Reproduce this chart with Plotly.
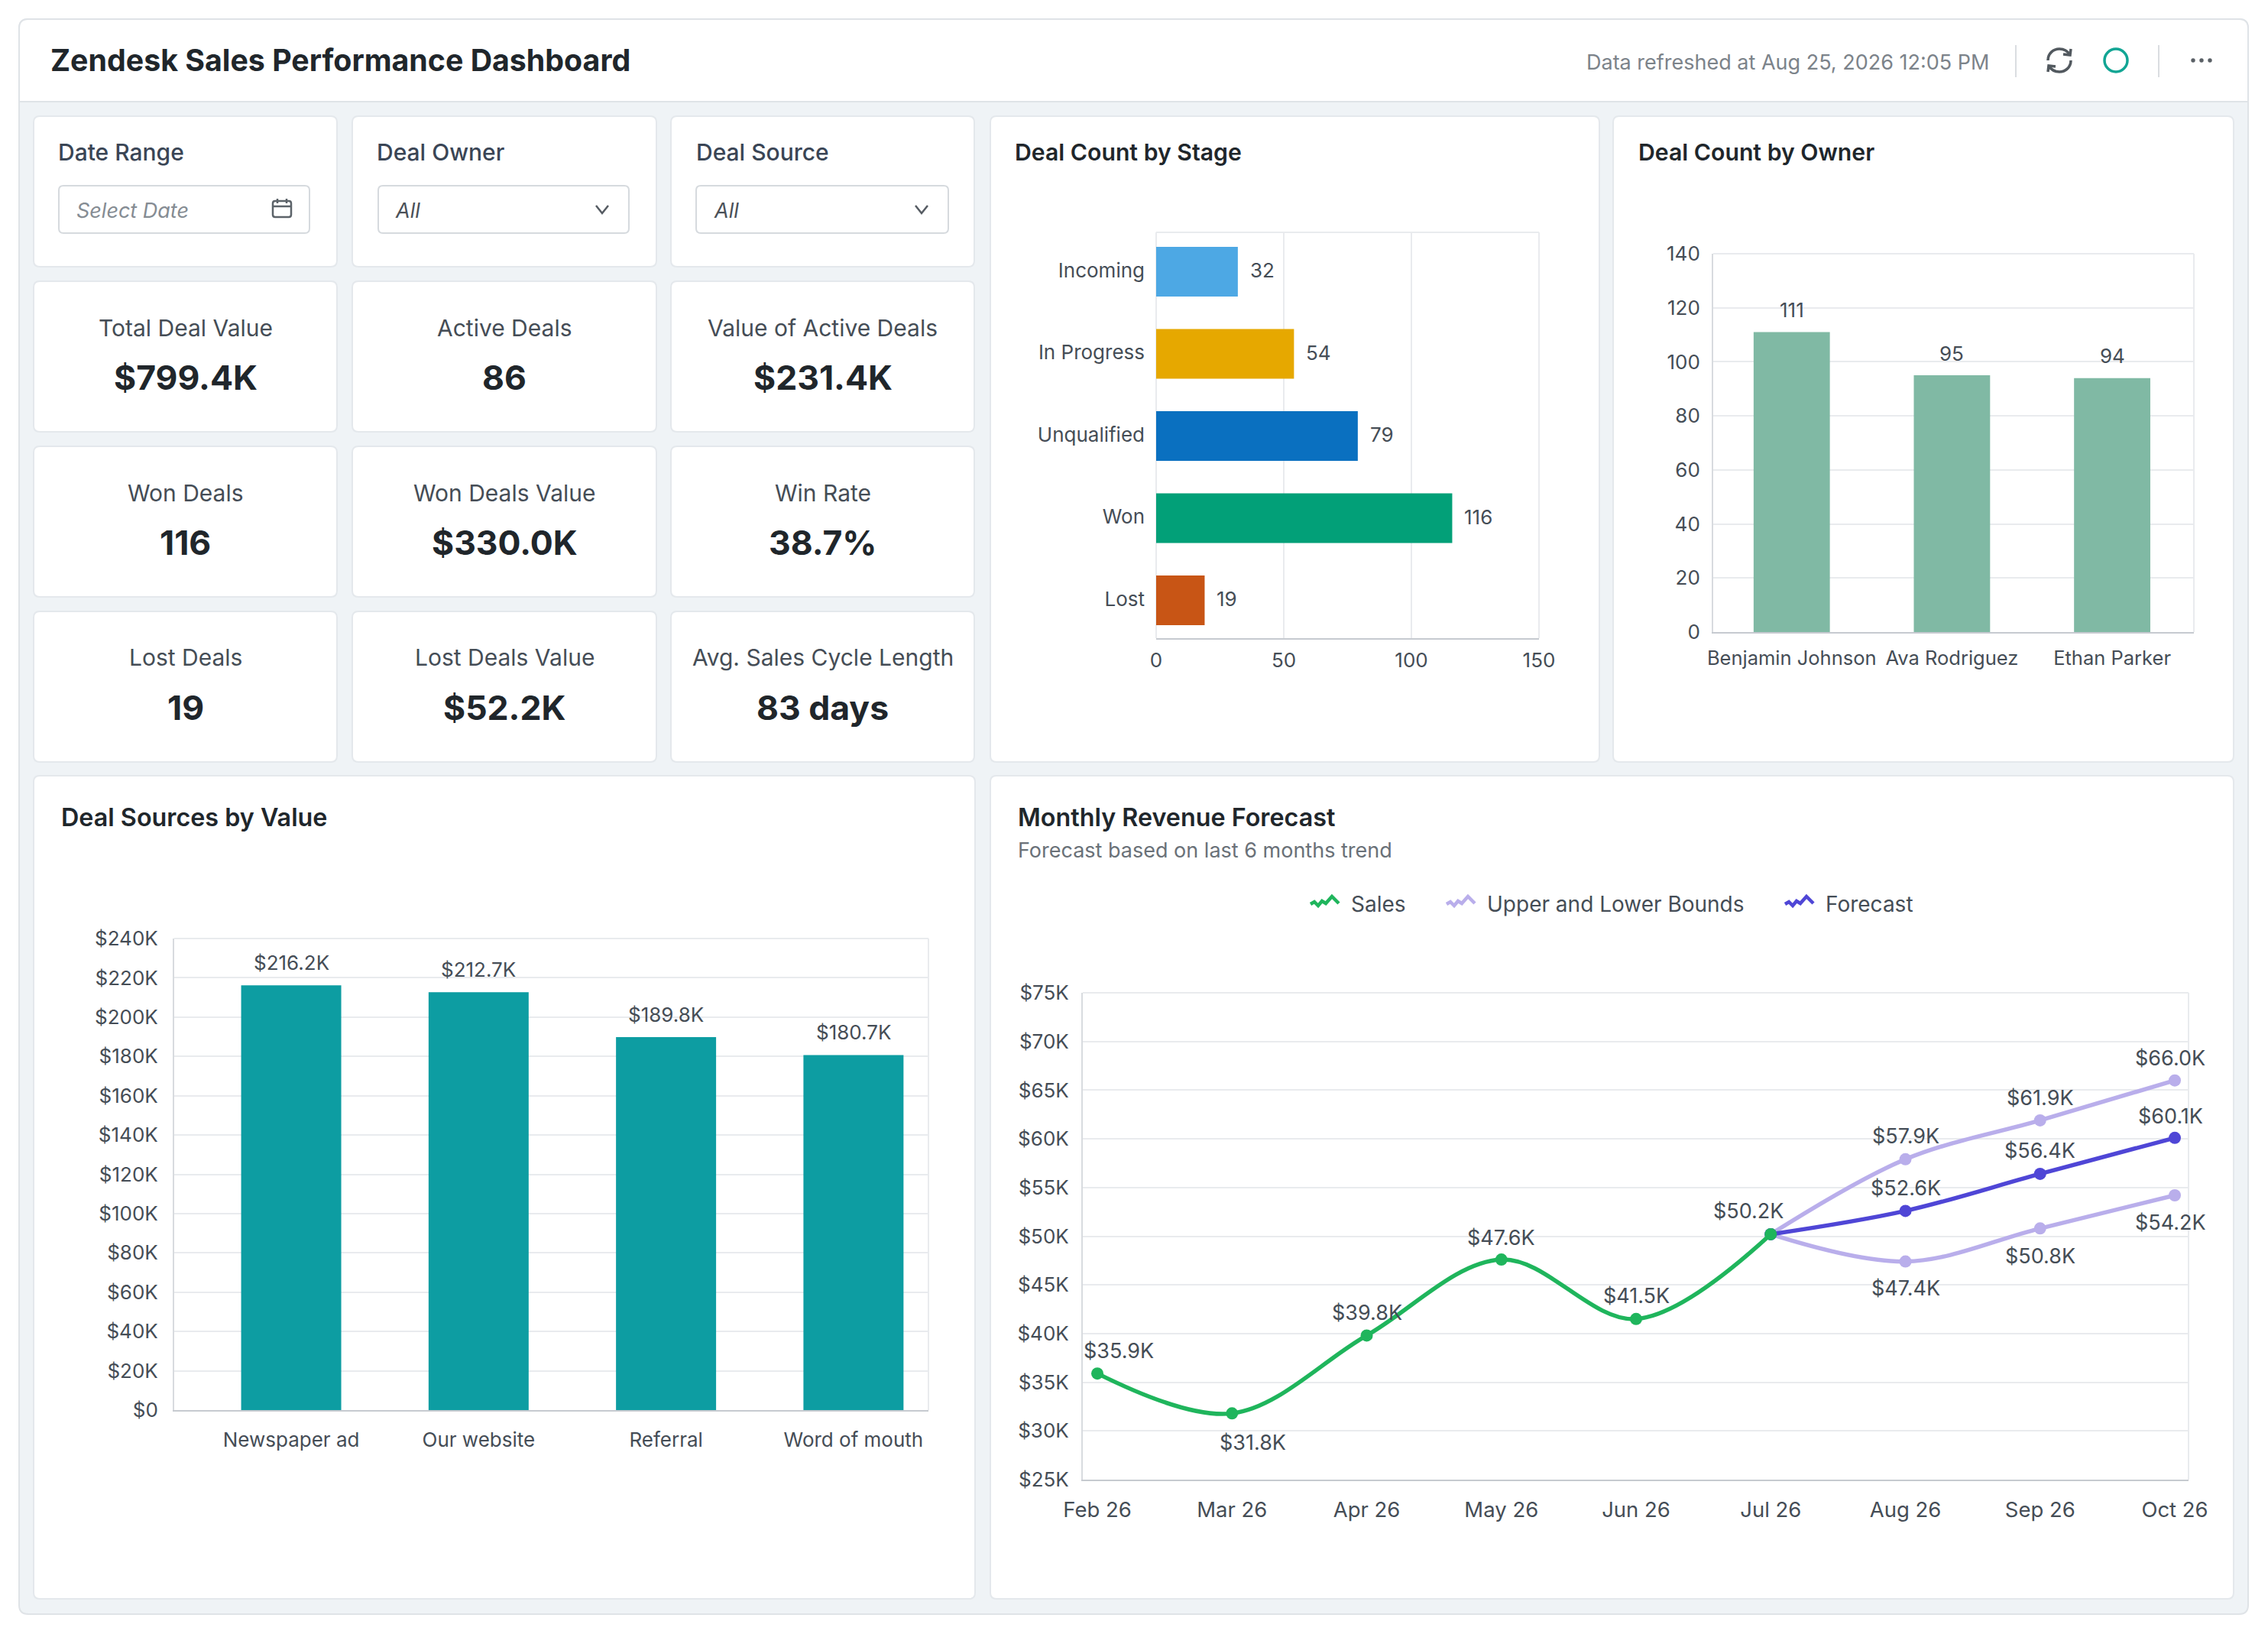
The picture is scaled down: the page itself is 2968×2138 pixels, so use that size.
import plotly.graph_objects as go

W, H = 2968, 2138
FONT = "Inter"

# ---------- data ----------
dashboard_title = "Zendesk Sales Performance Dashboard"
refreshed_text = "Data refreshed at Aug 25, 2026 12:05 PM"

filter_labels = ["Date Range", "Deal Owner", "Deal Source"]
filter_values = ["Select Date", "All", "All"]

kpi_labels = ["Total Deal Value", "Active Deals", "Value of Active Deals",
              "Won Deals", "Won Deals Value", "Win Rate",
              "Lost Deals", "Lost Deals Value", "Avg. Sales Cycle Length"]
kpi_values = ["$799.4K", "86", "$231.4K",
              "116", "$330.0K", "38.7%",
              "19", "$52.2K", "83 days"]

stages = ["Incoming", "In Progress", "Unqualified", "Won", "Lost"]
stage_counts = [32, 54, 79, 116, 19]

owners = ["Benjamin Johnson", "Ava Rodriguez", "Ethan Parker"]
owner_counts = [111, 95, 94]

sources = ["Newspaper ad", "Our website", "Referral", "Word of mouth"]
source_values_k = [216.2, 212.7, 189.8, 180.7]
source_ticks_k = [0, 20, 40, 60, 80, 100, 120, 140, 160, 180, 200, 220, 240]

months = ["Feb 26", "Mar 26", "Apr 26", "May 26", "Jun 26", "Jul 26", "Aug 26", "Sep 26", "Oct 26"]
sales_k = [35.9, 31.8, 39.8, 47.6, 41.5, 50.2]
forecast_months = ["Jul 26", "Aug 26", "Sep 26", "Oct 26"]
upper_k = [50.2, 57.9, 61.9, 66.0]
lower_k = [50.2, 47.4, 50.8, 54.2]
forecast_k = [50.2, 52.6, 56.4, 60.1]
revenue_ticks_k = [25, 30, 35, 40, 45, 50, 55, 60, 65, 70, 75]

# ---------- styles ----------
C_BG = "#EFF3F6"
C_BORDER = "#E4E8EC"
C_TEXT = "#20262B"
C_LABEL = "#454D56"
C_FILTER = "#3A4555"
C_MUTED = "#7C838A"
C_GRID = "#E9EBEE"
C_AXIS = "#C6CAD0"
C_AXIS_L = "#D8DBDF"
C_SALES = "#1FB55C"
C_BOUND = "#B9AEEB"
C_FORECAST = "#4F46D6"
STAGE_COLORS = ["#4DA8E4", "#E6A800", "#0A70C0", "#02A078", "#C85515"]
C_OWNER = "#80B9A4"
C_SOURCE = "#0D9DA2"
TICK = 26


def xf(x):
    return x / W


def yf(y):
    return 1 - y / H


def path(cmds):
    """cmds: list of (letter, x, y, ...) in page pixels -> paper-fraction path."""
    out = []
    for c in cmds:
        if len(c) == 1:
            out.append(c[0])
        else:
            vals = []
            for i in range(1, len(c), 2):
                vals.append(f"{xf(c[i]):.6f},{yf(c[i + 1]):.6f}")
            out.append(c[0] + " ".join(vals))
    return " ".join(out)


shapes = []
ann = []


def pshape(cmds, fill=None, line=None, width=0):
    shapes.append(dict(type="path", xref="paper", yref="paper", layer="below",
                       path=path(cmds), fillcolor=fill or "rgba(0,0,0,0)",
                       line=dict(color=line or "rgba(0,0,0,0)", width=width)))


def rrect(x0, y0, x1, y1, r=8, fill="#FFFFFF", line=C_BORDER, width=2, top_only=False):
    cmds = [("M", x0 + r, y0), ("L", x1 - r, y0), ("Q", x1, y0, x1, y0 + r)]
    if top_only:
        cmds += [("L", x1, y1), ("L", x0, y1)]
    else:
        cmds += [("L", x1, y1 - r), ("Q", x1, y1, x1 - r, y1), ("L", x0 + r, y1),
                 ("Q", x0, y1, x0, y1 - r)]
    cmds += [("L", x0, y0 + r), ("Q", x0, y0, x0 + r, y0), ("Z",)]
    pshape(cmds, fill=fill, line=line, width=width)


def text(s, x, y, size, color=C_LABEL, anchor="left", weight=400, style="normal"):
    ann.append(dict(text=s, xref="paper", yref="paper", x=xf(x), y=yf(y), xanchor=anchor,
                    yanchor="middle", showarrow=False,
                    font=dict(family=FONT, size=size, color=color, weight=weight, style=style)))


# ---------- page chrome ----------
rrect(25, 25, 2942, 2112, r=12, fill=C_BG, line="#DFE3E7")
rrect(25, 25, 2942, 133, r=12, fill="#FFFFFF", line="#DFE3E7", top_only=True)
text(dashboard_title, 64, 78, 39.3, C_TEXT, weight=650)
text(refreshed_text, 2074, 81, 27, C_MUTED)
for sx in (2638, 2825):
    pshape([("M", sx, 59), ("L", sx, 101)], line="#DADDE1", width=2)
# refresh icon
cx, cy = 2695, 79
ic = "#52595F"
pshape([("M", cx - 15, cy), ("C", cx - 15, cy - 9, cx - 8, cy - 15, cx, cy - 15),
        ("C", cx + 6, cy - 15, cx + 11, cy - 12, cx + 14, cy - 7)], line=ic, width=3.5)
pshape([("M", cx + 15, cy - 15), ("L", cx + 14, cy - 7), ("L", cx + 5, cy - 8)], line=ic, width=3.5)
pshape([("M", cx + 15, cy), ("C", cx + 15, cy + 9, cx + 8, cy + 15, cx, cy + 15),
        ("C", cx - 6, cy + 15, cx - 11, cy + 12, cx - 14, cy + 7)], line=ic, width=3.5)
pshape([("M", cx - 15, cy + 15), ("L", cx - 14, cy + 7), ("L", cx - 5, cy + 8)], line=ic, width=3.5)
# status ring
shapes.append(dict(type="circle", xref="paper", yref="paper", layer="below",
                   x0=xf(2754), x1=xf(2784), y0=yf(94), y1=yf(64),
                   line=dict(color="#12A594", width=3.5), fillcolor="rgba(0,0,0,0)"))
# more menu
for dx in (2870, 2881, 2892):
    shapes.append(dict(type="circle", xref="paper", yref="paper", layer="below",
                       x0=xf(dx - 2.7), x1=xf(dx + 2.7), y0=yf(81.7), y1=yf(76.3),
                       fillcolor="#5A6066", line=dict(width=0)))

# ---------- filter + KPI cards ----------
col_x = [(44, 441), (461, 859), (878, 1275)]
row_y = [(152, 349), (368, 565), (584, 781), (800, 997)]
for (x0, x1) in col_x:
    for (y0, y1) in row_y:
        rrect(x0, y0, x1, y1)

input_x = [(77, 405), (495, 823), (911, 1241)]
label_x = [74, 491, 909]
value_x = [98, 515, 932]
for i in range(3):
    text(filter_labels[i], label_x[i], 198.5, 30, C_FILTER, weight=550)
    rrect(input_x[i][0], 243, input_x[i][1], 305, r=6, line="#D6DADE", width=2)
    text(filter_values[i], value_x[i], 275, 27,
         "#858C93" if i == 0 else "#4A5058", style="italic")
for cxx in (788, 1206):
    pshape([("M", cxx - 8, 269), ("L", cxx, 279), ("L", cxx + 8, 269)], line="#555B62", width=2.5)
# calendar icon
rrect(357, 263, 381, 284, r=3, fill="rgba(0,0,0,0)", line="#5C6369", width=2.5)
pshape([("M", 357, 270), ("L", 381, 270)], line="#5C6369", width=2.5)
for kx in (363, 375):
    pshape([("M", kx, 260), ("L", kx, 266)], line="#5C6369", width=2.5)

for i, (lab, val) in enumerate(zip(kpi_labels, kpi_values)):
    c = col_x[i % 3]
    r = row_y[1 + i // 3]
    mid = (c[0] + c[1]) / 2
    text(lab, mid, r[0] + 60.5, 30, C_LABEL, anchor="center")
    text(val, mid, r[0] + 126.5, 44.5, C_TEXT, anchor="center", weight=700)

# ---------- chart cards ----------
rrect(1296, 152, 2093, 997)
rrect(2111, 152, 2923, 997)
rrect(44, 1015, 1276, 2092)
rrect(1296, 1015, 2923, 2092)
text("Deal Count by Stage", 1326, 198.5, 30.2, C_TEXT, weight=620)
text("Deal Count by Owner", 2142, 198.5, 30.2, C_TEXT, weight=620)
text("Deal Sources by Value", 78, 1069, 32.3, C_TEXT, weight=620)
text("Monthly Revenue Forecast", 1330, 1069, 32.3, C_TEXT, weight=620)
text("Forecast based on last 6 months trend", 1330, 1112, 27, "#6A7178")

# ---------- legend ----------
squiggle = [(0, 10), (5, 7), (10, 12), (15, 6), (20, 9), (28, 0), (37, 9)]
legend_items = [("Sales", C_SALES, 1715, 1766), ("Upper and Lower Bounds", C_BOUND, 1893, 1944),
                ("Forecast", C_FORECAST, 2336, 2387)]
for name, col, ix, tx in legend_items:
    pts = [(ix + a, 1173 + b) for a, b in squiggle]
    pshape([("M", *pts[0])] + [("L", *p) for p in pts[1:]], line=col, width=4.5)
    text(name, tx, 1183, 28, C_LABEL)

# ---------- traces ----------
fig = go.Figure()

fig.add_trace(go.Bar(y=stages, x=stage_counts, orientation="h", xaxis="x", yaxis="y",
                     width=0.605,
                     marker=dict(color=STAGE_COLORS, line=dict(width=0)), showlegend=False))
fig.add_trace(go.Bar(x=owners, y=owner_counts, xaxis="x2", yaxis="y2", width=0.476,
                     marker=dict(color=C_OWNER, line=dict(width=0)), showlegend=False))
fig.add_trace(go.Bar(x=sources, y=source_values_k, xaxis="x3", yaxis="y3", width=0.534,
                     marker=dict(color=C_SOURCE, line=dict(width=0)), showlegend=False))


def line_trace(x, y, col, name):
    return go.Scatter(x=x, y=y, name=name, mode="lines+markers", xaxis="x4", yaxis="y4",
                      line=dict(color=col, width=5.5, shape="spline", smoothing=1.0),
                      marker=dict(color=col, size=16), cliponaxis=False, showlegend=False)


fig.add_trace(line_trace(forecast_months, upper_k, C_BOUND, "Upper and Lower Bounds"))
fig.add_trace(line_trace(forecast_months, lower_k, C_BOUND, "Lower Bound"))
fig.add_trace(line_trace(forecast_months, forecast_k, C_FORECAST, "Forecast"))
fig.add_trace(line_trace(months[:len(sales_k)], sales_k, C_SALES, "Sales"))

# ---------- data labels (anchored to data, offset in px) ----------
LBL = dict(family=FONT, size=TICK, color=C_LABEL)
LBL_R = dict(family=FONT, size=27, color=C_LABEL)
for i, v in enumerate(stage_counts):
    ann.append(dict(text=str(v), xref="x", yref="y", x=v, y=i, xanchor="left", yanchor="middle",
                    xshift=14, yshift=2, showarrow=False, font=LBL))
for i, v in enumerate(owner_counts):
    ann.append(dict(text=str(v), xref="x2", yref="y2", x=i, y=v, xanchor="center", yanchor="middle",
                    yshift=29, showarrow=False, font=LBL))
for i, v in enumerate(source_values_k):
    ann.append(dict(text=f"${v:.1f}K", xref="x3", yref="y3", x=i, y=v, xanchor="center",
                    yanchor="middle", yshift=30, showarrow=False, font=LBL))


def line_labels(start, values, offsets):
    for j, (v, (dx, dy)) in enumerate(zip(values, offsets)):
        ann.append(dict(text=f"${v:.1f}K", xref="x4", yref="y4", x=start + j, y=v,
                        xanchor="center", yanchor="middle", xshift=dx, yshift=-dy,
                        showarrow=False, font=LBL_R))


line_labels(0, sales_k, [(28, -30), (27, 38), (0, -30), (0, -29), (0, -30), (-29, -30)])
line_labels(6, upper_k[1:], [(0, -30), (0, -29), (-6, -29)])
line_labels(6, forecast_k[1:], [(0, -30), (0, -30), (-6, -28)])
line_labels(6, lower_k[1:], [(0, 35), (0, 36), (-6, 36)])

# ---------- plot frame lines (edge gridlines hidden by plotly) ----------
for xa, ya in (("x", "y"), ("x2", "y2"), ("x3", "y3"), ("x4", "y4")):
    shapes.append(dict(type="line", xref=f"{xa} domain", yref=f"{ya} domain",
                       x0=1, x1=1, y0=0, y1=1, layer="below", line=dict(color=C_GRID, width=2)))
    shapes.append(dict(type="line", xref=f"{xa} domain", yref=f"{ya} domain",
                       x0=0, x1=1, y0=1, y1=1, layer="below", line=dict(color=C_GRID, width=2)))
shapes.append(dict(type="line", xref="x domain", yref="y domain", x0=0, x1=0, y0=0, y1=1,
                   layer="below", line=dict(color=C_GRID, width=2)))

TF = dict(family=FONT, size=TICK, color=C_LABEL)
TF_R = dict(family=FONT, size=27.5, color=C_LABEL)


def axis(**kw):
    base = dict(tickfont=TF, zeroline=False, ticks="", automargin=False, fixedrange=True)
    base.update(kw)
    return base


def hdom(a, b):
    return [xf(a), xf(b)]


def vdom(top, bottom):
    return [yf(bottom), yf(top)]


fig.update_layout(
    width=W, height=H, autosize=False,
    margin=dict(l=0, r=0, t=0, b=0, pad=0),
    paper_bgcolor="#FFFFFF", plot_bgcolor="rgba(0,0,0,0)",
    font=dict(family=FONT),
    showlegend=False,
    shapes=shapes, annotations=ann,
    xaxis=axis(domain=hdom(1513, 2014), anchor="y", range=[0, 150], tickvals=[0, 50, 100, 150],
               showgrid=True, gridcolor=C_GRID, gridwidth=2, showline=True, linecolor=C_AXIS,
               linewidth=2, ticklabelstandoff=5),
    yaxis=axis(domain=vdom(304, 835), anchor="x", type="category", range=[4.46, -0.48],
               showgrid=False, ticklabelstandoff=14, ticklabelshift=2),
    xaxis2=axis(domain=hdom(2242, 2871), anchor="y2", type="category", range=[-0.49, 2.51],
                showgrid=False, showline=True, linecolor=C_AXIS, linewidth=2, ticklabelstandoff=10,
                tickfont=dict(family=FONT, size=25.5, color=C_LABEL)),
    yaxis2=axis(domain=vdom(332, 827), anchor="x2", range=[0, 140], dtick=20, showgrid=True,
                gridcolor=C_GRID, gridwidth=2, showline=True, linecolor=C_AXIS_L, linewidth=2,
                ticklabelstandoff=10),
    xaxis3=axis(domain=hdom(228, 1215), anchor="y3", type="category", range=[-0.624, 3.4],
                showgrid=False, showline=True, linecolor=C_AXIS, linewidth=2, ticklabelstandoff=15),
    yaxis3=axis(domain=vdom(1228, 1845), anchor="x3", range=[0, 240], tickvals=source_ticks_k,
                ticktext=[f"${v}K" if v else "$0" for v in source_ticks_k], showgrid=True,
                gridcolor=C_GRID, gridwidth=2, showline=True, linecolor=C_AXIS_L, linewidth=2,
                ticklabelstandoff=14),
    xaxis4=axis(domain=hdom(1417, 2864), anchor="y4", type="category", categoryorder="array",
                categoryarray=months, range=[-0.108, 8.102], tickvals=months, ticktext=months,
                showgrid=False, showline=True, linecolor=C_AXIS, linewidth=2, ticklabelstandoff=14,
                tickfont=TF_R),
    yaxis4=axis(domain=vdom(1299, 1936), anchor="x4", range=[25, 75], tickvals=revenue_ticks_k,
                ticktext=[f"${v}K" for v in revenue_ticks_k], showgrid=True, gridcolor=C_GRID,
                gridwidth=2, showline=True, linecolor=C_AXIS_L, linewidth=2, ticklabelstandoff=11),
)

fig.write_html("out.html", config=dict(displayModeBar=False),
               post_script="document.body.style.margin='0';document.body.style.overflow='hidden';")
